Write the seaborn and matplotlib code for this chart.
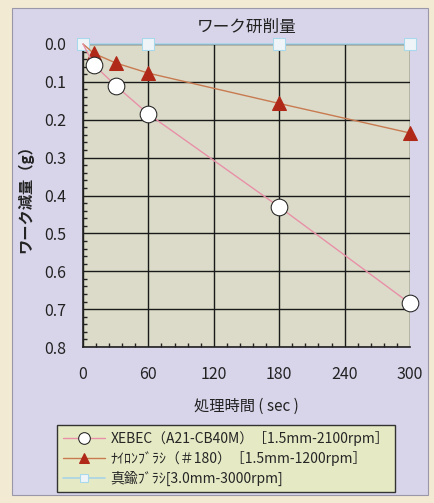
import numpy as np
import pandas as pd
import matplotlib.pyplot as plt
import matplotlib.ticker as ticker
from matplotlib.patches import Rectangle
import seaborn as sns

sns.set_style('white')
plt.rcParams['font.family'] = ['Noto Sans CJK JP', 'DejaVu Sans']

# data
t_xebec = [0, 10, 30, 60, 180, 300]
w_xebec = [0.0, 0.055, 0.11, 0.185, 0.43, 0.685]
t_nylon = [0, 10, 30, 60, 180, 300]
w_nylon = [0.0, 0.025, 0.05, 0.077, 0.157, 0.235]
t_brass = [0, 60, 180, 300]
w_brass = [0.0, 0.0, 0.0, 0.0]

lab_xebec = 'XEBEC（A21-CB40M）［1.5mm-2100rpm］'
lab_nylon = 'ﾅｲﾛﾝﾌﾞﾗｼ（＃180）［1.5mm-1200rpm］'
lab_brass = '真鍮ﾌﾞﾗｼ[3.0mm-3000rpm]'

xticks = [0, 60, 120, 180, 240, 300]
yticks = [0.0, 0.1, 0.2, 0.3, 0.4, 0.5, 0.6, 0.7, 0.8]

fig = plt.figure(figsize=(4.35, 5.03), dpi=100)
fig.patch.set_facecolor('#f3ead4')
panel = Rectangle((12 / 435, 1 - 495 / 503), 416 / 435, 487 / 503,
                  transform=fig.transFigure, facecolor='#d8d4ea',
                  edgecolor='#9a98a8', lw=0.8, zorder=-5)
fig.add_artist(panel)
ax = fig.add_axes([83 / 435, 1 - 347 / 503, 327 / 435, 303 / 503])
ax.set_zorder(1)
ax.set_facecolor('#dcdbc9')

sns.lineplot(x=t_brass, y=w_brass, ax=ax, color='#a8d4e8', lw=1.2, marker='s',
             markersize=8, markerfacecolor='#eef4f8', markeredgecolor='#a8d8ec',
             label=lab_brass, clip_on=False, zorder=4)
sns.lineplot(x=t_nylon, y=w_nylon, ax=ax, color='#c87a50', lw=1.0, marker='^',
             markersize=10, markerfacecolor='#b02818', markeredgecolor='#b02818',
             markevery=list(range(1, len(t_nylon))), label=lab_nylon,
             clip_on=False, zorder=5)
sns.lineplot(x=t_xebec, y=w_xebec, ax=ax, color='#e890a8', lw=1.0, marker='o',
             markersize=12, markerfacecolor='white', markeredgecolor='#222222',
             markevery=list(range(1, len(t_xebec))), label=lab_xebec,
             clip_on=False, zorder=6)

ax.set_xlim(0, 300)
ax.set_ylim(0.8, 0.0)
ax.set_xticks(xticks)
ax.set_yticks(yticks)
ax.yaxis.set_major_formatter(ticker.FormatStrFormatter('%.1f'))
ax.xaxis.set_minor_locator(ticker.MultipleLocator(12))
ax.yaxis.set_minor_locator(ticker.MultipleLocator(0.02))
ax.tick_params(which='both', direction='in', colors='#222222', labelsize=11.5,
               bottom=True, left=True)
ax.tick_params(which='major', length=0, pad=12)
ax.tick_params(which='minor', length=3, width=1)
ax.tick_params(axis='x', pad=14)
ax.grid(True, which='major', color='#1a1a1a', lw=1.0)
for side in ['top', 'right']:
    ax.spines[side].set_visible(False)
for side in ['left', 'bottom']:
    ax.spines[side].set_color('#222222')
    ax.spines[side].set_linewidth(1.2)

ax.set_title('ワーク研削量', fontsize=12, pad=9, color='#222222')
ax.set_xlabel('処理時間 ( sec )', fontsize=11, labelpad=10, color='#222222')
ax.set_ylabel('ワーク減量（g）', fontsize=11, labelpad=8, color='#222222',
              fontweight='bold')

h, l = ax.get_legend_handles_labels()
order = [2, 1, 0]
leg = ax.legend([h[i] for i in order], [l[i] for i in order],
                loc='upper left', bbox_to_anchor=(50 / 435, 1 - 418 / 503),
                bbox_transform=fig.transFigure, fontsize=10, frameon=True,
                fancybox=False, borderpad=0.45, labelspacing=0.35,
                handlelength=3.0, handletextpad=0.4, markerscale=0.7)
leg.get_frame().set_facecolor('#e6eac4')
leg.get_frame().set_edgecolor('#333333')
leg.get_frame().set_alpha(1)

plt.savefig('out.png', dpi=100, facecolor=fig.get_facecolor())
